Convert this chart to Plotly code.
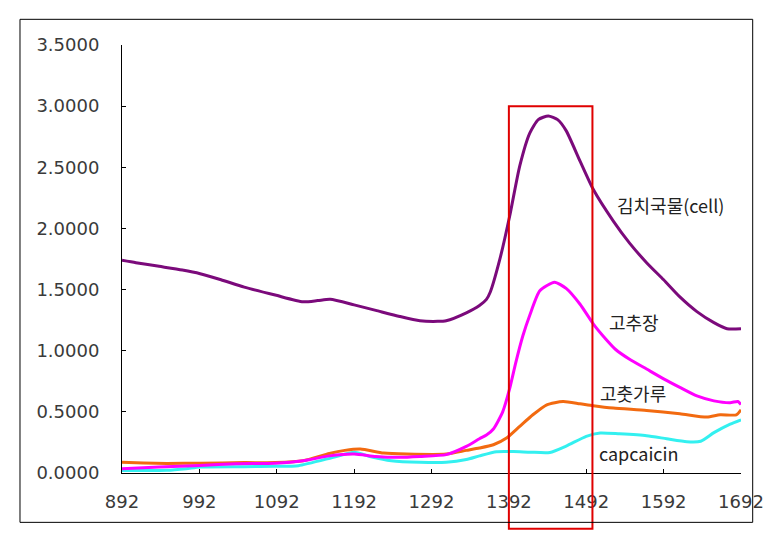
import plotly.graph_objects as go

# ---- data ----
kimchi_x = [892, 910, 940, 970, 993, 1020, 1050, 1090, 1126, 1145, 1161, 1192, 1220, 1251, 1277, 1300,
            1311, 1337, 1354, 1363, 1368, 1380, 1393, 1406, 1419, 1430, 1443, 1455, 1466, 1484, 1501,
            1527, 1548, 1570, 1592, 1613, 1635, 1657, 1674, 1692]
kimchi_y = [1.74, 1.72, 1.69, 1.66, 1.63, 1.58, 1.52, 1.455, 1.40, 1.41, 1.42, 1.375, 1.33, 1.28, 1.245, 1.24,
            1.245, 1.31, 1.37, 1.42, 1.48, 1.74, 2.10, 2.51, 2.78, 2.89, 2.92, 2.89, 2.80, 2.55, 2.32,
            2.06, 1.88, 1.72, 1.58, 1.44, 1.32, 1.23, 1.18, 1.18]

gochujang_x = [892, 940, 993, 1040, 1090, 1126, 1160, 1192, 1220, 1251, 1277, 1311, 1337, 1354, 1363, 1372,
               1384, 1393, 1401, 1410, 1419, 1432, 1451, 1466, 1484, 1501, 1518, 1530, 1548, 1570, 1592,
               1613, 1635, 1657, 1678, 1688, 1692]
gochujang_y = [0.035, 0.05, 0.062, 0.075, 0.08, 0.10, 0.14, 0.155, 0.135, 0.128, 0.135, 0.15, 0.217, 0.28, 0.31, 0.36,
               0.50, 0.69, 0.905, 1.12, 1.29, 1.49, 1.56, 1.51, 1.38, 1.22, 1.09, 1.01, 0.93, 0.85, 0.77,
               0.70, 0.63, 0.59, 0.575, 0.585, 0.56]

gochutgaru_x = [892, 920, 950, 993, 1050, 1090, 1126, 1160, 1180, 1200, 1230, 1260, 1311, 1337, 1354, 1372,
                1389, 1406, 1423, 1441, 1462, 1484, 1501, 1527, 1570, 1613, 1648, 1665, 1686, 1692]
gochutgaru_y = [0.087, 0.082, 0.078, 0.08, 0.085, 0.085, 0.10, 0.16, 0.185, 0.196, 0.163, 0.155, 0.155, 0.185, 0.204, 0.231,
                0.286, 0.381, 0.476, 0.558, 0.585, 0.566, 0.55, 0.531, 0.512, 0.485, 0.457, 0.476, 0.476, 0.517]

capcaicin_x = [892, 950, 975, 993, 1050, 1090, 1120, 1165, 1192, 1215, 1240, 1277, 1311, 1337, 1354, 1376,
               1398, 1420, 1445, 1466, 1492, 1510, 1535, 1570, 1596, 1622, 1640, 1657, 1678, 1692]
capcaicin_y = [0.02, 0.022, 0.035, 0.049, 0.052, 0.055, 0.06, 0.128, 0.17, 0.13, 0.10, 0.087, 0.087, 0.11, 0.14, 0.174,
               0.175, 0.17, 0.168, 0.22, 0.30, 0.327, 0.32, 0.305, 0.28, 0.256, 0.26, 0.33, 0.40, 0.435]

series_names = ["김치국물(cell)", "고추장", "고춧가루", "capcaicin"]
series_colors = ["#7B0A7B", "#FF00FF", "#F26A10", "#33F0F0"]

x_ticks = [892, 992, 1092, 1192, 1292, 1392, 1492, 1592, 1692]
y_ticks = [0.0, 0.5, 1.0, 1.5, 2.0, 2.5, 3.0, 3.5]

highlight_x = [1392, 1500]   # red box (data x units)
highlight_top = 3.0

X_MIN, X_MAX = 892, 1692
Y_MIN, Y_MAX = 0, 3.5

fig = go.Figure()
all_x = [capcaicin_x, gochutgaru_x, gochujang_x, kimchi_x]
all_y = [capcaicin_y, gochutgaru_y, gochujang_y, kimchi_y]
order = [3, 2, 1, 0]
for xs, ys, idx in zip(all_x, all_y, order):
    fig.add_trace(go.Scatter(x=xs, y=ys, mode="lines", name=series_names[idx],
                             line=dict(color=series_colors[idx], width=3, shape="spline", smoothing=0.6),
                             showlegend=False))

# labels next to the curves
label_pos = [(1529, 2.19), (1519, 1.236), (1507, 0.656), (1506, 0.166)]
for name, (lx, ly) in zip(series_names, label_pos):
    fig.add_annotation(x=lx, y=ly, xref="x", yref="y", text=name, showarrow=False,
                       xanchor="left", yanchor="middle",
                       font=dict(family="Noto Sans CJK KR, DejaVu Sans", size=18, color="#222222"))

def to_paper_x(v):
    return (v - X_MIN) / (X_MAX - X_MIN)

# red highlight box
fig.add_shape(type="rect", xref="paper", yref="paper",
              x0=to_paper_x(highlight_x[0]), x1=to_paper_x(highlight_x[1]),
              y0=-0.130, y1=(highlight_top - Y_MIN) / (Y_MAX - Y_MIN),
              line=dict(color="#E00000", width=2), fillcolor="rgba(0,0,0,0)")

# outer chart border
fig.add_shape(type="rect", xref="paper", yref="paper",
              x0=-0.1648, x1=1.0189, y0=-0.1153, y1=1.060,
              line=dict(color="black", width=1), fillcolor="rgba(0,0,0,0)")

# page body has an 8px default margin, so margins are offset by 8px
fig.update_layout(
    width=775, height=548,
    margin=dict(l=114, r=42, t=37, b=83),
    paper_bgcolor="white", plot_bgcolor="white",
    font=dict(family="DejaVu Sans", size=18, color="#3a3a3a"),
    xaxis=dict(range=[X_MIN, X_MAX], tickvals=x_ticks, ticktext=[str(v) for v in x_ticks],
               showgrid=False, zeroline=False, showline=True, linecolor="black", linewidth=1,
               ticks="inside", ticklen=4, tickcolor="black", tickfont=dict(size=18),
               ticklabelstandoff=12),
    yaxis=dict(range=[Y_MIN, Y_MAX], tickvals=y_ticks, tickformat=".4f",
               showgrid=False, zeroline=False, showline=True, linecolor="black", linewidth=1,
               ticks="inside", ticklen=4, tickcolor="black", tickfont=dict(size=18),
               ticklabelstandoff=18),
)

fig.write_html("out.html")
